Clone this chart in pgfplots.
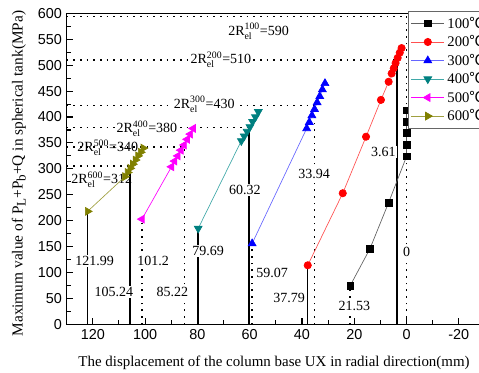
\documentclass[border=0pt]{standalone}
\usepackage{fontspec}
\usepackage{amsmath}
\usepackage{pgfplots}
\pgfplotsset{compat=1.18}
\setmainfont{Liberation Serif}
\newfontfamily\arial{Liberation Sans}
\newfontfamily\cjk{Noto Sans CJK SC}
\newcommand{\degC}{{\cjk ℃}}
\newcommand{\sub}[1]{\raisebox{-0.4ex}{\fontsize{9.8}{10}\selectfont #1}}
\definecolor{cLine1}{HTML}{606060}
\definecolor{cRed}{HTML}{FF0000}
\definecolor{cRedL}{HTML}{FF5050}
\definecolor{cBlue}{HTML}{0000FF}
\definecolor{cBlueL}{HTML}{6666FF}
\definecolor{cTeal}{HTML}{008080}
\definecolor{cTealL}{HTML}{40A8A8}
\definecolor{cMag}{HTML}{FF00FF}
\definecolor{cOli}{HTML}{808000}
\definecolor{cOliL}{HTML}{A0A040}
\tikzset{
  dotl/.style={black, line width=1.2pt, dash pattern=on 1.2pt off 3.8pt},
  soll/.style={black, line width=1.1pt},
  lab/.style={font=\fontsize{10.5}{12}\selectfont, inner sep=1pt},
}
\begin{document}
\begin{tikzpicture}
\begin{axis}[
  scale only axis, width=313.7pt, height=233.25pt,
  x dir=reverse, xmin=-30, xmax=130, ymin=0, ymax=600,
  xtick={-20,0,20,40,60,80,100,120}, minor x tick num=1,
  ytick={0,50,...,600}, minor y tick num=1,
  tick pos=left, tick align=inside,
  major tick length=5pt, minor tick length=3pt,
  axis line style={line width=0.8pt},
  every tick/.style={black, line width=0.8pt},
  tick label style={font=\arial\fontsize{10.8}{12}\selectfont},
  /pgf/number format/assume math mode=true,
  xlabel={The displacement of the column base UX in radial direction(mm)},
  ylabel={Maximum value of P\sub{L}+P\sub{b}+Q in spherical tank(MPa)},
  every axis y label/.style={at={(axis description cs:-0.114,0.485)}, rotate=90, anchor=center, font=\fontsize{11.5}{13}\selectfont},
  every axis x label/.style={at={(axis description cs:0.4957,-0.1235)}, anchor=center, font=\fontsize{11.2}{13}\selectfont},
  legend style={at={(axis cs:-0.5,604)}, anchor=north west, draw=black!60, fill=white,
    font=\fontsize{11}{13}\selectfont, row sep=0pt, inner sep=2pt},
  legend cell align=left,
  legend image code/.code={\draw[mark repeat=2,mark phase=2,#1] plot coordinates {(0pt,0pt) (12.5pt,0pt) (25pt,0pt)};},
]
% reference lines
\addplot[dotl, forget plot] coordinates {(130,594) (0,594)};
\addplot[dotl, forget plot] coordinates {(130,510) (3.61,510)};
\addplot[dotl, forget plot] coordinates {(130,422) (35.2,422)};
\addplot[dotl, forget plot] coordinates {(130,380) (60.32,380)};
\addplot[dotl, forget plot] coordinates {(130,342) (85.0,342)};
\addplot[dotl, forget plot] coordinates {(130,306) (105.8,306)};
\addplot[soll, forget plot] coordinates {(121.99,0) (121.99,218)};
\addplot[soll, forget plot] coordinates {(105.8,0) (105.8,306)};
\addplot[soll, forget plot] coordinates {(79.69,0) (79.69,185)};
\addplot[soll, forget plot] coordinates {(60.32,0) (60.32,380)};
\addplot[soll, forget plot] coordinates {(37.79,0) (37.79,114)};
\addplot[soll, forget plot] coordinates {(3.61,0) (3.61,510)};
\addplot[dotl, forget plot] coordinates {(101.2,0) (101.2,203)};
\addplot[dotl, forget plot] coordinates {(85.0,0) (85.0,342)};
\addplot[dotl, forget plot] coordinates {(59.07,0) (59.07,156)};
\addplot[dotl, forget plot] coordinates {(35.2,0) (35.2,422)};
\addplot[dotl, forget plot] coordinates {(21.53,0) (21.53,75)};
\addplot[dotl, forget plot] coordinates {(0,0) (0,594)};
% labels
\node[lab, fill=white, anchor=base west] at (axis cs:68.8,558) {2R$_{\text{el}}^{\text{100}}$=590};
\node[lab, fill=white, anchor=base west] at (axis cs:83.2,502.5) {2R$_{\text{el}}^{\text{200}}$=510};
\node[lab, fill=white, anchor=base west] at (axis cs:89.6,417) {2R$_{\text{el}}^{\text{300}}$=430};
\node[lab, fill=white, anchor=base west] at (axis cs:111.5,370) {2R$_{\text{el}}^{\text{400}}$=380};
\node[lab, anchor=base west] at (axis cs:126.5,333) {2R$_{\text{el}}^{\text{500}}$=340};
\node[lab, anchor=base west] at (axis cs:128.8,272) {2R$_{\text{el}}^{\text{600}}$=312};
\node[lab, fill=white] at (axis cs:119.3,122) {121.99};
\node[lab, fill=white] at (axis cs:111.9,61.7) {105.24};
\node[lab, fill=white] at (axis cs:96.9,122.8) {101.2};
\node[lab, fill=white] at (axis cs:89.6,63) {85.22};
\node[lab, fill=white] at (axis cs:75.9,141.5) {79.69};
\node[lab, fill=white] at (axis cs:61.8,259) {60.32};
\node[lab, fill=white] at (axis cs:51.4,99.6) {59.07};
\node[lab, fill=white] at (axis cs:44.9,51.4) {37.79};
\node[lab, fill=white] at (axis cs:35.4,290) {33.94};
\node[lab, fill=white] at (axis cs:20,36) {21.53};
\node[lab, fill=white] at (axis cs:8.9,332) {3.61};
\node[lab, fill=white] at (axis cs:0,139) {0};
% series
\addplot[cLine1, line width=0.5pt, mark=square*, mark size=2.5pt, mark options={fill=black, draw=black, solid}]
 coordinates {(21.53,75) (14,146) (6.85,235) (0,324) (0,346) (0,369) (0,391) (0,413)};
\addlegendentry{100\degC}
\addplot[cRedL, line width=0.5pt, mark=*, mark size=2.75pt, mark options={fill=cRed, draw=cRed, solid}]
 coordinates {(37.79,114) (24.4,253) (15.5,362) (9.8,433) (6.85,468) (5.7,484) (4.9,494) (4.2,504) (3.4,514) (2.6,524) (1.9,533)};
\addlegendentry{200\degC}
\addplot[cBlueL, line width=0.5pt, mark=triangle*, mark size=3.4pt, mark options={fill=cBlue, draw=cBlue, solid}]
 coordinates {(59.07,156) (38.2,378) (37.2,390) (36.2,403) (35.2,415) (34.2,428) (33.2,440) (32.2,453) (31.2,465)};
\addlegendentry{300\degC}
\addplot[cTealL, line width=0.5pt, mark=triangle*, mark size=3.4pt, mark options={fill=cTeal, draw=cTeal, solid, rotate=180}]
 coordinates {(79.69,185) (63.2,354) (62.1,363) (61.0,372) (59.9,381) (58.9,391) (57.8,400) (56.7,410)};
\addlegendentry{400\degC}
\addplot[cMag, line width=0.5pt, mark=triangle*, mark size=3.4pt, mark options={fill=cMag, draw=cMag, solid, rotate=90}]
 coordinates {(101.2,203) (89.9,304) (88.7,315) (87.5,325) (86.3,336) (85.1,346) (83.9,357) (82.7,367) (81.6,378)};
\addlegendentry{500\degC}
\addplot[cOliL, line width=0.5pt, mark=triangle*, mark size=3.4pt, mark options={fill=cOli, draw=cOli, solid, rotate=270}]
 coordinates {(121.99,218) (107.7,285) (106.7,293) (105.7,301) (104.7,309) (103.7,317) (102.7,325) (101.7,332) (100.7,340)};
\addlegendentry{600\degC}
\end{axis}
\pgfresetboundingbox
\path[use as bounding box] ([shift={(-50pt,-35.8pt)}]current axis.south west) rectangle ([shift={(309.2pt,10pt)}]current axis.north west);
\end{tikzpicture}
\end{document}
